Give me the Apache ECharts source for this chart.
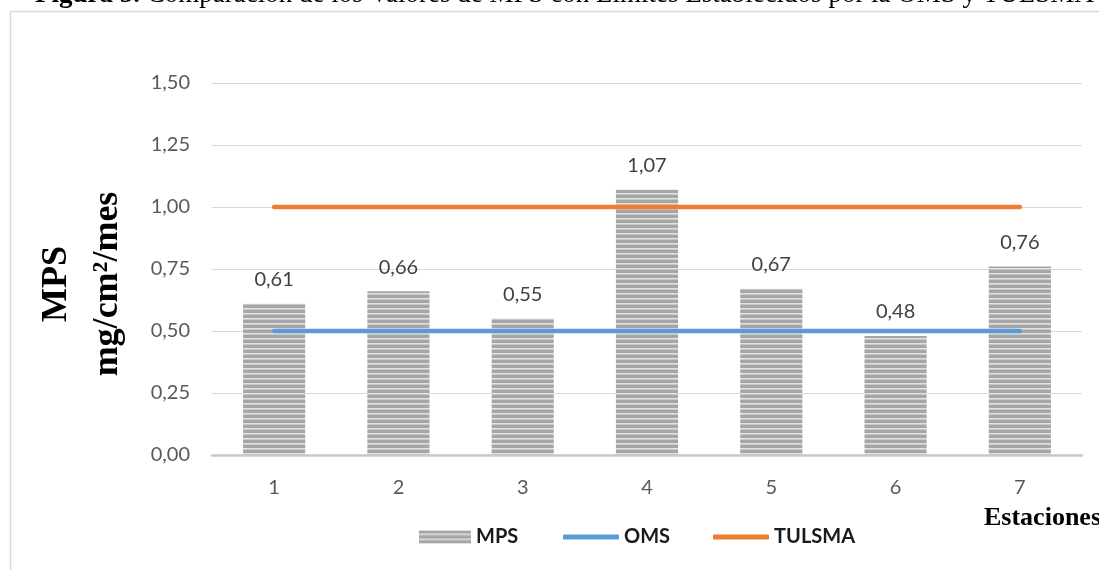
<!DOCTYPE html>
<html>
<head>
<meta charset="utf-8">
<script src="https://cdn.jsdelivr.net/npm/echarts@6/dist/echarts.min.js"></script>
<style>
html,body{margin:0;padding:0;background:#fff;}
#c{width:1099px;height:570px;}
</style>
</head>
<body>
<div id="c"></div>
<script>
const categories = ['1','2','3','4','5','6','7'];
const mpsValues = [0.61, 0.66, 0.55, 1.07, 0.67, 0.48, 0.76];
const omsValues = [0.5, 0.5, 0.5, 0.5, 0.5, 0.5, 0.5];
const tulsmaValues = [1.0, 1.0, 1.0, 1.0, 1.0, 1.0, 1.0];
const yTicks = [0, 0.25, 0.5, 0.75, 1.0, 1.25, 1.5];
const titleBold = 'Figura 5.';
const titleRest = ' Comparación de los Valores de MPS con Límites Establecidos por la OMS y TULSMA';

function fmt(v){ return v.toFixed(2).replace('.', ','); }

// striped pattern for bars
const pat = document.createElement('canvas');
pat.width = 8; pat.height = 5;
const pctx = pat.getContext('2d');
pctx.fillStyle = '#A6A6A6'; pctx.fillRect(0,0,8,5);
pctx.fillStyle = '#E2E2E2'; pctx.fillRect(0,3,8,1);
pctx.fillStyle = '#C8C8C8'; pctx.fillRect(0,4,8,1);

// measure bold part of caption
const mc = document.createElement('canvas').getContext('2d');
mc.font = 'bold 27px "Liberation Serif"';
const boldW = mc.measureText(titleBold).width;

const chart = echarts.init(document.getElementById('c'), null, {renderer:'canvas'});
const sans = 'Lato';
const legendText = {color: '#1a1a1a', fontFamily: sans, fontWeight: 'bold', fontSize: 20};
chart.setOption({
  animation: false,
  backgroundColor: '#fff',
  grid: {left: 212, right: 17, top: 83, bottom: 115, containLabel: false},
  xAxis: {
    type: 'category',
    data: categories,
    boundaryGap: true,
    axisLine: {lineStyle: {color: '#C8C8C8', width: 2.5}},
    axisTick: {show: false},
    axisLabel: {color: '#595959', fontFamily: sans, fontSize: 20, margin: 23}
  },
  yAxis: {
    type: 'value',
    min: yTicks[0], max: yTicks[yTicks.length-1], interval: 0.25,
    axisLine: {show: false},
    axisTick: {show: false},
    splitLine: {lineStyle: {color: '#D9D9D9', width: 1}},
    axisLabel: {color: '#595959', fontFamily: sans, fontSize: 20, margin: 22,
      formatter: v => fmt(v)}
  },
  legend: [
    {
      left: 419, top: 527, padding: 0,
      itemWidth: 52, itemHeight: 13, itemGap: 43,
      textStyle: legendText,
      data: [{name:'MPS', icon:'rect'}]
    },
    {
      left: 563, top: 527, padding: 0,
      itemWidth: 56, itemHeight: 5, itemGap: 43,
      textStyle: legendText,
      data: [{name:'OMS', icon:'roundRect'}, {name:'TULSMA', icon:'roundRect'}]
    }
  ],
  series: [
    {
      name: 'MPS', type: 'bar', data: mpsValues, barWidth: '50%',
      itemStyle: {color: {image: pat, repeat: 'repeat'}},
      label: {show: true, position: 'top', distance: 14, color: '#404040',
        fontFamily: sans, fontSize: 20, formatter: p => fmt(p.value)},
      z: 2
    },
    {
      name: 'OMS', type: 'line', data: omsValues, symbol: 'none', showSymbol: false,
      lineStyle: {color: '#5B9BD5', width: 4.5, cap: 'round'}, itemStyle: {color: '#5B9BD5'}, z: 3
    },
    {
      name: 'TULSMA', type: 'line', data: tulsmaValues, symbol: 'none', showSymbol: false,
      lineStyle: {color: '#ED7D31', width: 4.5, cap: 'round'}, itemStyle: {color: '#ED7D31'}, z: 3
    }
  ],
  graphic: [
    {type: 'rect', z: -1, silent: true, shape: {x: 10.5, y: 11.5, width: 1200, height: 700},
      style: {fill: 'none', stroke: '#D9D9D9', lineWidth: 1.5}},
    {type: 'text', x: 35, y: 10, silent: true,
      style: {text: titleBold, font: 'bold 27px "Liberation Serif"', fill: '#000',
        align: 'left', verticalAlign: 'bottom', lineHeight: 30}},
    {type: 'text', x: 35 + boldW, y: 10, silent: true,
      style: {text: titleRest, font: 'normal 27px "Liberation Serif"', fill: '#000',
        align: 'left', verticalAlign: 'bottom', lineHeight: 30}},
    {type: 'text', x: 82, y: 284, rotation: Math.PI/2, silent: true,
      style: {text: 'MPS\nmg/cm²/mes', font: 'bold 36px "Liberation Serif"', fill: '#000',
        align: 'center', verticalAlign: 'middle', lineHeight: 51}},
    {type: 'text', left: 984, top: 505, silent: true,
      style: {text: 'Estaciones', font: 'bold 26px "Liberation Serif"', fill: '#000'}}
  ]
});
</script>
</body>
</html>
